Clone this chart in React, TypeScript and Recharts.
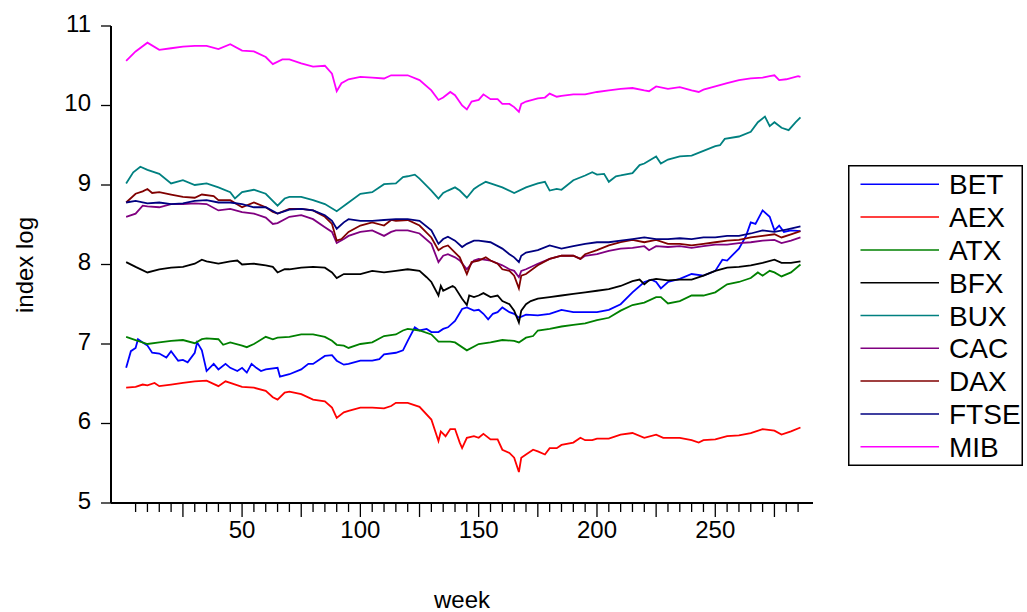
import { LineChart, Line, XAxis, YAxis, Legend } from "recharts";

type Pt = [number, number];

// weekly log index levels (week, value)
const BET: Pt[] = [
  [1, 6.7], [3, 6.91], [5, 6.95], [6, 7.06], [8, 7.02], [10, 6.98], [12, 6.89], [15, 6.88], [18, 6.83], [20, 6.91],
  [23, 6.79], [25, 6.8], [27, 6.77], [30, 6.89], [31, 7.02], [33, 6.92], [35, 6.66], [38, 6.75], [40, 6.68], [43, 6.75],
  [45, 6.7], [48, 6.66], [50, 6.7], [52, 6.64], [54, 6.75], [56, 6.7], [58, 6.66], [60, 6.68], [65, 6.7], [66, 6.59],
  [70, 6.62], [75, 6.68], [78, 6.75], [80, 6.75], [85, 6.85], [88, 6.86], [90, 6.79], [93, 6.74], [95, 6.75], [100, 6.79],
  [105, 6.79], [108, 6.81], [110, 6.87], [115, 6.89], [118, 6.92], [120, 7.04], [123, 7.21], [125, 7.17], [128, 7.19], [130, 7.15],
  [133, 7.15], [135, 7.19], [137, 7.21], [140, 7.29], [143, 7.44], [145, 7.46], [148, 7.42], [150, 7.43], [152, 7.38], [154, 7.31],
  [156, 7.38], [158, 7.4], [160, 7.46], [163, 7.4], [165, 7.38], [167, 7.33], [170, 7.37], [175, 7.36], [180, 7.38], [185, 7.43],
  [190, 7.4], [195, 7.4], [200, 7.4], [205, 7.43], [210, 7.5], [215, 7.65], [220, 7.78], [223, 7.81], [225, 7.78], [227, 7.7],
  [230, 7.78], [235, 7.82], [240, 7.88], [245, 7.86], [250, 7.92], [253, 8.06], [255, 8.05], [260, 8.2], [263, 8.36], [265, 8.53],
  [267, 8.51], [270, 8.68], [273, 8.6], [275, 8.43], [277, 8.49], [279, 8.41], [282, 8.43], [286, 8.42],
];

const AEX: Pt[] = [
  [1, 6.45], [5, 6.46], [8, 6.49], [10, 6.48], [13, 6.51], [15, 6.47], [20, 6.49], [25, 6.51], [30, 6.53], [35, 6.54],
  [40, 6.47], [43, 6.53], [45, 6.51], [50, 6.46], [55, 6.45], [60, 6.41], [63, 6.33], [65, 6.3], [68, 6.39], [70, 6.4],
  [75, 6.37], [80, 6.3], [85, 6.28], [88, 6.2], [90, 6.07], [93, 6.14], [95, 6.16], [100, 6.2], [105, 6.2], [110, 6.19],
  [113, 6.22], [115, 6.26], [120, 6.26], [125, 6.21], [130, 6.05], [133, 5.78], [134, 5.9], [136, 5.84], [138, 5.93], [140, 5.93],
  [142, 5.76], [143, 5.69], [145, 5.82], [148, 5.84], [150, 5.82], [152, 5.87], [155, 5.8], [158, 5.8], [160, 5.67], [163, 5.63],
  [165, 5.57], [167, 5.39], [168, 5.57], [170, 5.61], [173, 5.67], [175, 5.65], [178, 5.61], [180, 5.69], [183, 5.69], [185, 5.73],
  [190, 5.76], [193, 5.82], [195, 5.79], [198, 5.79], [200, 5.81], [205, 5.81], [210, 5.86], [215, 5.88], [220, 5.82], [225, 5.86],
  [228, 5.82], [230, 5.82], [235, 5.82], [240, 5.79], [243, 5.76], [245, 5.79], [250, 5.8], [255, 5.84], [260, 5.85], [265, 5.88],
  [270, 5.93], [275, 5.91], [278, 5.86], [282, 5.9], [286, 5.95],
];

const ATX: Pt[] = [
  [1, 7.09], [5, 7.05], [10, 7.0], [15, 7.02], [20, 7.04], [25, 7.05], [30, 7.01], [33, 7.06], [35, 7.07], [40, 7.06],
  [42, 6.99], [45, 7.02], [50, 6.98], [52, 6.96], [55, 7.0], [60, 7.09], [63, 7.06], [65, 7.08], [70, 7.09], [75, 7.12],
  [80, 7.12], [85, 7.09], [88, 7.04], [90, 6.99], [93, 6.98], [95, 6.95], [100, 7.0], [105, 7.02], [110, 7.1], [115, 7.12],
  [118, 7.17], [120, 7.19], [125, 7.17], [130, 7.12], [133, 7.03], [138, 7.03], [140, 7.02], [145, 6.92], [150, 7.0], [155, 7.02],
  [160, 7.05], [165, 7.04], [167, 7.02], [170, 7.08], [173, 7.1], [175, 7.17], [180, 7.19], [185, 7.22], [190, 7.24], [195, 7.26],
  [200, 7.3], [205, 7.33], [210, 7.42], [215, 7.49], [220, 7.52], [225, 7.59], [227, 7.59], [230, 7.51], [235, 7.54], [240, 7.61],
  [245, 7.61], [250, 7.65], [255, 7.75], [260, 7.78], [265, 7.83], [268, 7.9], [270, 7.86], [273, 7.92], [275, 7.9], [278, 7.85],
  [282, 7.9], [286, 8.0],
];

const BFX: Pt[] = [
  [1, 8.03], [5, 7.97], [10, 7.9], [15, 7.94], [20, 7.96], [25, 7.97], [30, 8.01], [33, 8.06], [35, 8.04], [40, 8.01],
  [45, 8.04], [48, 8.05], [50, 8.0], [55, 8.01], [60, 7.99], [63, 7.97], [65, 7.9], [68, 7.94], [70, 7.94], [75, 7.96],
  [80, 7.97], [85, 7.96], [88, 7.9], [90, 7.83], [93, 7.88], [95, 7.88], [100, 7.88], [105, 7.92], [110, 7.9], [115, 7.92],
  [120, 7.94], [125, 7.92], [128, 7.84], [130, 7.78], [133, 7.61], [134, 7.73], [135, 7.67], [137, 7.7], [139, 7.73], [140, 7.71],
  [143, 7.57], [145, 7.49], [146, 7.61], [148, 7.59], [150, 7.61], [152, 7.64], [155, 7.59], [158, 7.61], [160, 7.54], [163, 7.5],
  [165, 7.42], [167, 7.27], [168, 7.42], [170, 7.5], [172, 7.54], [175, 7.57], [180, 7.59], [185, 7.61], [190, 7.63], [195, 7.65],
  [200, 7.67], [205, 7.69], [210, 7.73], [215, 7.79], [218, 7.81], [220, 7.75], [222, 7.8], [225, 7.82], [230, 7.8], [235, 7.81],
  [240, 7.81], [245, 7.86], [250, 7.92], [255, 7.96], [260, 7.97], [265, 7.99], [270, 8.02], [275, 8.06], [278, 8.02], [282, 8.02],
  [286, 8.04],
];

const BUX: Pt[] = [
  [1, 9.02], [4, 9.16], [7, 9.23], [10, 9.19], [15, 9.14], [20, 9.02], [25, 9.06], [30, 9.0], [35, 9.02], [40, 8.97],
  [45, 8.91], [47, 8.83], [50, 8.91], [55, 8.94], [60, 8.89], [65, 8.74], [68, 8.83], [70, 8.85], [75, 8.85], [80, 8.81],
  [85, 8.76], [90, 8.67], [95, 8.78], [100, 8.89], [105, 8.91], [110, 9.01], [115, 9.02], [118, 9.1], [120, 9.11], [123, 9.13],
  [125, 9.08], [130, 8.93], [133, 8.83], [135, 8.9], [137, 8.93], [140, 8.97], [142, 8.93], [145, 8.84], [148, 8.95], [150, 8.99],
  [153, 9.04], [155, 9.02], [160, 8.97], [165, 8.9], [170, 8.97], [175, 9.02], [178, 9.04], [180, 8.93], [183, 8.95], [185, 8.94],
  [190, 9.06], [195, 9.12], [198, 9.16], [200, 9.13], [203, 9.14], [205, 9.04], [208, 9.11], [210, 9.12], [215, 9.15], [218, 9.25],
  [220, 9.27], [225, 9.36], [227, 9.27], [230, 9.32], [235, 9.36], [240, 9.37], [245, 9.43], [250, 9.49], [252, 9.5], [254, 9.58],
  [260, 9.61], [265, 9.67], [268, 9.79], [271, 9.86], [273, 9.74], [275, 9.79], [278, 9.72], [281, 9.69], [284, 9.79], [286, 9.85],
];

const CAC: Pt[] = [
  [1, 8.6], [5, 8.64], [8, 8.74], [10, 8.73], [15, 8.72], [20, 8.76], [25, 8.76], [30, 8.77], [35, 8.76], [40, 8.68],
  [45, 8.7], [50, 8.66], [55, 8.64], [60, 8.59], [63, 8.51], [65, 8.52], [70, 8.6], [75, 8.62], [80, 8.57], [85, 8.47],
  [88, 8.41], [90, 8.27], [93, 8.32], [95, 8.36], [100, 8.41], [105, 8.43], [110, 8.36], [113, 8.41], [115, 8.43], [120, 8.43],
  [125, 8.39], [130, 8.26], [133, 8.03], [135, 8.11], [137, 8.13], [140, 8.09], [142, 8.05], [145, 7.94], [148, 8.05], [150, 8.07],
  [155, 8.05], [160, 7.99], [163, 7.94], [165, 7.92], [167, 7.84], [168, 7.92], [170, 7.94], [175, 8.01], [180, 8.07], [185, 8.11],
  [190, 8.11], [193, 8.07], [195, 8.11], [200, 8.13], [205, 8.17], [210, 8.2], [215, 8.21], [220, 8.23], [222, 8.18], [225, 8.23],
  [230, 8.22], [235, 8.23], [240, 8.21], [245, 8.23], [250, 8.25], [255, 8.25], [260, 8.27], [265, 8.28], [270, 8.3], [275, 8.31],
  [278, 8.27], [282, 8.3], [286, 8.34],
];

const DAX: Pt[] = [
  [1, 8.78], [5, 8.89], [8, 8.92], [10, 8.95], [12, 8.9], [15, 8.91], [20, 8.88], [25, 8.85], [30, 8.84], [33, 8.88],
  [38, 8.86], [40, 8.81], [45, 8.81], [50, 8.72], [55, 8.78], [60, 8.72], [63, 8.66], [65, 8.64], [70, 8.7], [75, 8.7],
  [80, 8.68], [85, 8.6], [88, 8.51], [90, 8.3], [92, 8.32], [95, 8.41], [100, 8.49], [105, 8.53], [110, 8.49], [113, 8.56],
  [115, 8.55], [120, 8.56], [125, 8.49], [130, 8.34], [133, 8.18], [135, 8.22], [137, 8.24], [140, 8.15], [142, 8.09], [145, 7.88],
  [147, 8.03], [150, 8.05], [153, 8.09], [155, 8.05], [158, 8.01], [160, 7.94], [163, 7.92], [165, 7.86], [167, 7.7], [168, 7.86],
  [170, 7.88], [175, 7.99], [180, 8.07], [185, 8.11], [190, 8.11], [193, 8.07], [195, 8.13], [200, 8.18], [205, 8.24], [210, 8.28],
  [215, 8.31], [220, 8.28], [225, 8.31], [230, 8.26], [235, 8.26], [240, 8.24], [245, 8.26], [250, 8.28], [255, 8.3], [260, 8.31],
  [265, 8.34], [270, 8.36], [275, 8.38], [278, 8.34], [282, 8.38], [286, 8.42],
];

const FTSE: Pt[] = [
  [1, 8.78], [5, 8.8], [10, 8.77], [15, 8.78], [20, 8.76], [25, 8.77], [30, 8.8], [35, 8.81], [40, 8.78], [45, 8.78],
  [50, 8.76], [55, 8.72], [60, 8.72], [65, 8.64], [70, 8.69], [75, 8.7], [80, 8.68], [85, 8.62], [88, 8.55], [90, 8.45],
  [93, 8.53], [95, 8.57], [100, 8.55], [105, 8.55], [110, 8.56], [115, 8.57], [120, 8.57], [125, 8.55], [130, 8.43], [133, 8.26],
  [135, 8.32], [137, 8.35], [140, 8.3], [143, 8.22], [145, 8.26], [148, 8.3], [150, 8.3], [155, 8.28], [160, 8.2], [163, 8.13],
  [165, 8.09], [167, 8.03], [168, 8.11], [170, 8.15], [175, 8.18], [180, 8.24], [185, 8.2], [190, 8.23], [195, 8.26], [200, 8.28],
  [205, 8.28], [210, 8.3], [215, 8.32], [220, 8.34], [225, 8.32], [230, 8.32], [235, 8.33], [240, 8.32], [245, 8.34], [250, 8.34],
  [255, 8.36], [260, 8.36], [265, 8.39], [270, 8.43], [275, 8.41], [280, 8.44], [286, 8.48],
];

const MIB: Pt[] = [
  [1, 10.56], [5, 10.68], [10, 10.79], [15, 10.7], [20, 10.72], [25, 10.74], [30, 10.75], [35, 10.75], [40, 10.71], [45, 10.77],
  [50, 10.69], [55, 10.68], [60, 10.61], [63, 10.52], [67, 10.58], [70, 10.58], [75, 10.53], [80, 10.49], [85, 10.5], [88, 10.4],
  [90, 10.18], [92, 10.28], [95, 10.33], [100, 10.36], [105, 10.35], [110, 10.34], [113, 10.38], [115, 10.38], [120, 10.38], [125, 10.32],
  [130, 10.19], [133, 10.07], [135, 10.1], [138, 10.17], [140, 10.13], [143, 10.0], [145, 9.95], [147, 10.05], [150, 10.07], [152, 10.14],
  [155, 10.08], [158, 10.08], [160, 10.02], [163, 10.02], [165, 9.98], [167, 9.92], [168, 10.02], [170, 10.05], [175, 10.09], [178, 10.1],
  [180, 10.15], [183, 10.11], [185, 10.12], [190, 10.14], [195, 10.14], [200, 10.17], [205, 10.19], [210, 10.21], [215, 10.22], [220, 10.19],
  [222, 10.18], [225, 10.24], [230, 10.21], [235, 10.23], [240, 10.19], [243, 10.17], [245, 10.2], [250, 10.24], [255, 10.28], [260, 10.32],
  [265, 10.34], [270, 10.35], [273, 10.37], [275, 10.38], [277, 10.32], [280, 10.33], [285, 10.37], [286, 10.36],
];

const SERIES = [
  { name: "BET", color: "#0000ff", pts: BET },
  { name: "AEX", color: "#ff0000", pts: AEX },
  { name: "ATX", color: "#008000", pts: ATX },
  { name: "BFX", color: "#000000", pts: BFX },
  { name: "BUX", color: "#008080", pts: BUX },
  { name: "CAC", color: "#800080", pts: CAC },
  { name: "DAX", color: "#800000", pts: DAX },
  { name: "FTSE", color: "#000080", pts: FTSE },
  { name: "MIB", color: "#ff00ff", pts: MIB },
];

const Y_TICKS = [5, 6, 7, 8, 9, 10, 11];
const X_LABELS = [50, 100, 150, 200, 250];
// minor ticks every 5 weeks, longer every 25
const X_TICKS = Array.from({ length: 57 }, (_, i) => (i + 1) * 5);

const FONT = '"Liberation Sans", Arial, sans-serif';

function WeekTick(props: any) {
  const { x, y, payload } = props;
  const v = payload.value;
  const len = v % 25 === 0 ? 14 : 9;
  return (
    <g>
      <line x1={x} x2={x} y1={y} y2={y + len} stroke="#000" strokeWidth={1.3} />
      {X_LABELS.includes(v) && (
        <text x={x} y={y + 35} textAnchor="middle" fontSize={24} fontFamily={FONT} fill="#000">
          {v}
        </text>
      )}
    </g>
  );
}

function ValueTick(props: any) {
  const { x, y, payload } = props;
  return (
    <text x={x} y={y + 5.5} textAnchor="end" fontSize={24} fontFamily={FONT} fill="#000">
      {payload.value}
    </text>
  );
}

const XTitle = () => (
  <text x={462} y={608} textAnchor="middle" fontSize={24} fontFamily={FONT} fill="#000">
    week
  </text>
);

const YTitle = () => (
  <text x={33} y={265} transform="rotate(-90 33 265)" textAnchor="middle" fontSize={24} fontFamily={FONT} fill="#000">
    index log
  </text>
);

function LegendBox() {
  return (
    <svg width={175} height={301} style={{ display: "block", overflow: "visible" }}>
      <rect x={0.75} y={0.75} width={173.5} height={299.5} fill="#fff" stroke="#000" strokeWidth={1.5} />
      {SERIES.map((s, i) => {
        const cy = 19.3 + i * 32.8;
        return (
          <g key={s.name}>
            <line x1={12.5} x2={91} y1={cy} y2={cy} stroke={s.color} strokeWidth={1.5} />
            <text x={101} y={cy + 10} fontSize={28} fontFamily={FONT} fill="#000">
              {s.name}
            </text>
          </g>
        );
      })}
    </svg>
  );
}

export default function App() {
  return (
    <div style={{ position: "absolute", left: 0, top: 0, width: 1027, height: 612, background: "#fff" }}>
      <LineChart width={1027} height={612} margin={{ top: 26, right: 214, bottom: 0, left: 0 }}>
        <XAxis
          dataKey="week"
          type="number"
          domain={[-5.4, 291.3]}
          allowDataOverflow
          ticks={X_TICKS}
          interval={0}
          tick={<WeekTick />}
          tickLine={false}
          tickSize={0}
          tickMargin={0}
          axisLine={{ stroke: "#000", strokeWidth: 2 }}
          height={109}
          label={<XTitle />}
        />
        <XAxis
          xAxisId="top"
          orientation="top"
          type="number"
          domain={[-5.4, 291.3]}
          height={0}
          tick={false}
          tickLine={false}
          axisLine={{ stroke: "#000", strokeWidth: 2 }}
        />
        <YAxis
          type="number"
          domain={[5, 11]}
          ticks={Y_TICKS}
          interval={0}
          width={111}
          tickSize={10}
          tickMargin={10}
          tick={<ValueTick />}
          tickLine={{ stroke: "#000", strokeWidth: 1.3 }}
          axisLine={{ stroke: "#000", strokeWidth: 2 }}
          label={<YTitle />}
        />
        <YAxis
          yAxisId="right"
          orientation="right"
          type="number"
          domain={[5, 11]}
          width={0}
          tick={false}
          tickLine={false}
          axisLine={{ stroke: "#000", strokeWidth: 2 }}
        />
        {SERIES.map((s) => (
          <Line
            key={s.name}
            name={s.name}
            data={s.pts.map(([week, v]) => ({ week, v }))}
            dataKey="v"
            type="linear"
            stroke={s.color}
            strokeWidth={1.8}
            dot={false}
            activeDot={false}
            isAnimationActive={false}
          />
        ))}
        <Legend
          layout="vertical"
          align="center"
          verticalAlign="middle"
          content={<LegendBox />}
          wrapperStyle={{ left: 848, top: 165, width: 175, height: 301 }}
        />
      </LineChart>
    </div>
  );
}
